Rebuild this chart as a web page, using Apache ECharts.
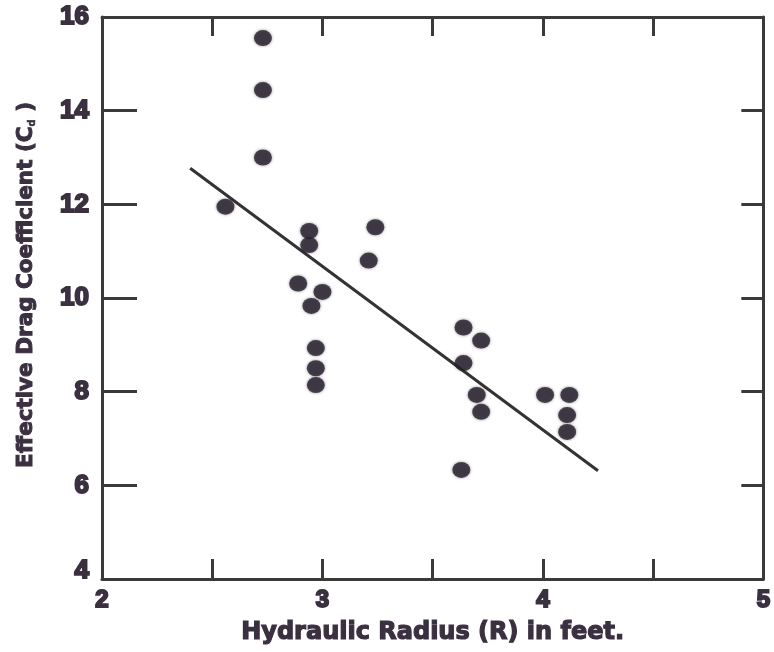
<!DOCTYPE html>
<html>
<head>
<meta charset="utf-8">
<title>Effective Drag Coefficient vs Hydraulic Radius</title>
<script src="https://cdn.jsdelivr.net/npm/echarts@6/dist/echarts.min.js"></script>
<style>
  html, body { margin: 0; padding: 0; background: #ffffff; }
  #chart { width: 774px; height: 652px; }
</style>
</head>
<body>
<div id="chart"></div>
<script>
// Hydraulic radius R (ft) for each observation
const radius = [
  2.73, 2.73, 2.73, 2.56, 2.94, 2.94, 3.24, 3.21, 2.89, 3.00,
  2.95, 2.97, 2.97, 2.97, 3.64, 3.72, 3.64, 3.70, 3.72, 3.63,
  4.01, 4.12, 4.11, 4.11
];
// Effective drag coefficient Cd for each observation
const dragCoef = [
  15.55, 14.44, 13.00, 11.95, 11.43, 11.13, 11.51, 10.80, 10.31, 10.13,
  9.83, 8.93, 8.50, 8.14, 9.37, 9.09, 8.61, 7.93, 7.57, 6.33,
  7.93, 7.93, 7.50, 7.14
];
// Fitted trend line end points
const fitR = [2.40, 4.25];
const fitCd = [12.77, 6.31];

// Axis ranges and tick labels
const xRange = [2, 5];
const xTickStep = 0.5;
const xLabels = ['2', '3', '4', '5'];
const yRange = [4, 16];
const yTickStep = 2;

const ink = '#3a3040';
const lineInk = '#3a3a3a';
const dotInk = '#261f2c';
const numFont = '"Liberation Sans", Arial, sans-serif';
const titleFont = '"DejaVu Sans", sans-serif';

const points = radius.map((r, i) => [r, dragCoef[i]]);
const fitLine = fitR.map((r, i) => [r, fitCd[i]]);

const chart = echarts.init(document.getElementById('chart'), null, { renderer: 'canvas' });

// ECharts text style for heavy bold lettering
const heavy = (size, family, stroke) => ({
  color: ink,
  fontFamily: family,
  fontWeight: 'bold',
  fontSize: size,
  textBorderColor: ink,
  textBorderWidth: stroke
});
// Same lettering expressed with zrender style keys (for graphic elements)
const heavyZr = (size, family, stroke) => ({
  fill: ink,
  stroke: ink,
  lineWidth: stroke,
  fontFamily: family,
  fontWeight: 'bold',
  fontSize: size
});

const axisLine = { show: true, onZero: false, lineStyle: { color: lineInk, width: 3 } };

chart.setOption({
  animation: false,
  backgroundColor: '#ffffff',
  grid: { left: 102, right: 4, top: 17, bottom: 73, containLabel: false },
  xAxis: [
    {
      type: 'value', position: 'bottom',
      min: xRange[0], max: xRange[1], interval: xTickStep,
      axisLine: axisLine,
      axisTick: { show: true, inside: true, length: 20, lineStyle: { color: lineInk, width: 3 } },
      splitLine: { show: false },
      axisLabel: Object.assign({
        margin: 9,
        formatter: (v) => (xLabels.indexOf(String(v)) >= 0 ? String(v) : '')
      }, heavy(24, numFont, 2)),
      name: 'Hydraulic Radius (R) in feet.',
      nameLocation: 'middle',
      nameGap: 42,
      nameTextStyle: heavy(24, titleFont, 1.2)
    },
    {
      type: 'value', position: 'top',
      min: xRange[0], max: xRange[1], interval: xTickStep,
      axisLine: axisLine,
      axisTick: { show: true, inside: true, length: 19, lineStyle: { color: lineInk, width: 3 } },
      splitLine: { show: false },
      axisLabel: { show: false }
    }
  ],
  yAxis: [
    {
      type: 'value', position: 'left',
      min: yRange[0], max: yRange[1], interval: yTickStep,
      axisLine: axisLine,
      axisTick: { show: true, inside: true, length: 35, lineStyle: { color: lineInk, width: 3 } },
      splitLine: { show: false },
      axisLabel: Object.assign({
        margin: 13,
        formatter: (v) => (v === yRange[0] ? '{low|' + v + '}' : String(v)),
        rich: { low: Object.assign({ padding: [0, 0, 16, 0] }, heavy(26, numFont, 2)) }
      }, heavy(26, numFont, 2))
    },
    {
      type: 'value', position: 'right',
      min: yRange[0], max: yRange[1], interval: yTickStep,
      axisLine: axisLine,
      axisTick: { show: true, inside: true, length: 22, lineStyle: { color: lineInk, width: 3 } },
      splitLine: { show: false },
      axisLabel: { show: false }
    }
  ],
  graphic: [
    {
      type: 'text',
      x: 26, y: 285,
      rotation: Math.PI / 2,
      style: {
        text: '{a|Effective Drag Coefficient (C}{s|d}{a| )}',
        align: 'center',
        verticalAlign: 'middle',
        rich: {
          a: heavyZr(21.5, titleFont, 1),
          s: Object.assign(heavyZr(10, titleFont, 0.5), { verticalAlign: 'bottom', padding: [10, 0, 0, 0] })
        }
      }
    }
  ],
  series: [
    {
      type: 'line',
      data: fitLine,
      symbol: 'none',
      lineStyle: { color: '#333333', width: 3 },
      z: 2
    },
    {
      type: 'scatter',
      data: points,
      symbol: 'circle',
      symbolSize: [18, 16],
      itemStyle: { color: dotInk, shadowBlur: 3, shadowColor: 'rgba(38,31,44,0.6)' },
      z: 3
    }
  ]
});
</script>
</body>
</html>
